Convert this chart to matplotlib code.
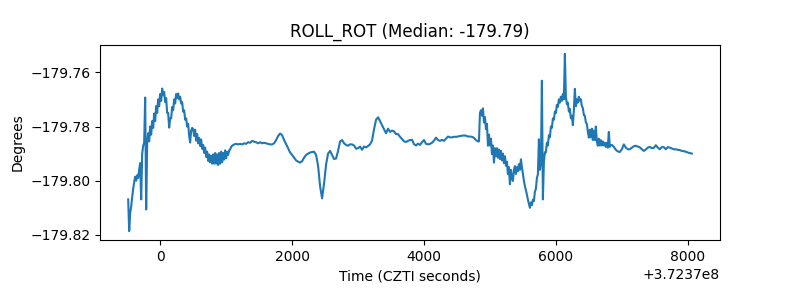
import numpy as np
import matplotlib
matplotlib.use("Agg")
import matplotlib.pyplot as plt

# Time offset (CZTI seconds) and segment boundaries (seconds relative to offset)
t_offset = 372370000.0
seg_bounds = [(-485, 1091), (1091, 4818), (4833, 6817), (6817, 8060)]

# Segment 1: noisy start (sampled ~15 s)
seg1 = [-179.8069, -179.8186, -179.8120, -179.8095, -179.8060, -179.8030, -179.8005, -179.7985,
        -179.8000, -179.7980, -179.7990, -179.7960, -179.7935, -179.8069, -179.7900, -179.7871,
        -179.7860, -179.7693, -179.8106,
        -179.7860, -179.7825, -179.7855, -179.7800, -179.7830, -179.7780, -179.7805, -179.7752,
        -179.7780, -179.7725, -179.7750, -179.7700, -179.7725, -179.7680, -179.7705, -179.7660,
        -179.7685, -179.7672, -179.7710, -179.7695, -179.7750, -179.7750, -179.7804, -179.7770,
        -179.7770, -179.7728, -179.7740, -179.7700, -179.7715, -179.7680, -179.7695, -179.7678,
        -179.7700, -179.7690, -179.7715, -179.7710, -179.7745, -179.7740, -179.7775, -179.7770,
        -179.7800, -179.7790, -179.7835, -179.7859,
        -179.7815, -179.7805, -179.7810, -179.7835, -179.7812, -179.7852, -179.7828, -179.7862,
        -179.7842, -179.7872, -179.7848, -179.7882, -179.7868, -179.7897, -179.7878, -179.7912,
        -179.7893, -179.7927, -179.7903, -179.7932, -179.7908, -179.7937, -179.7903, -179.7937,
        -179.7898, -179.7937, -179.7903, -179.7942, -179.7898, -179.7937, -179.7893, -179.7932,
        -179.7898, -179.7922, -179.7888, -179.7917, -179.7893, -179.7905, -179.7888, -179.7885,
        -179.7875, -179.7871]

# Segment 2: smooth middle (sampled ~30 s)
seg2 = [-179.7871, -179.7866, -179.7864, -179.7866, -179.7864, -179.7866, -179.7862, -179.7864,
        -179.7858, -179.7860, -179.7853, -179.7856, -179.7858, -179.7862, -179.7858, -179.7862,
        -179.7860, -179.7862, -179.7864, -179.7866, -179.7866, -179.7862, -179.7850, -179.7835,
        -179.7826, -179.7832, -179.7850, -179.7865, -179.7880, -179.7896, -179.7905, -179.7915,
        -179.7925, -179.7930, -179.7933, -179.7928, -179.7915, -179.7905, -179.7900, -179.7896,
        -179.7894, -179.7893, -179.7905, -179.7945, -179.8020, -179.8065, -179.8010, -179.7940,
        -179.7900, -179.7890, -179.7905, -179.7920, -179.7918, -179.7890, -179.7855, -179.7850,
        -179.7862, -179.7868, -179.7871, -179.7866, -179.7866, -179.7870, -179.7882, -179.7880,
        -179.7874, -179.7886, -179.7874, -179.7877, -179.7872, -179.7866, -179.7852, -179.7810,
        -179.7775, -179.7766, -179.7780, -179.7795, -179.7810, -179.7825, -179.7808, -179.7820,
        -179.7815, -179.7818, -179.7828, -179.7828, -179.7838, -179.7846, -179.7855, -179.7857,
        -179.7853, -179.7850, -179.7849, -179.7865, -179.7870, -179.7863, -179.7868, -179.7858,
        -179.7850, -179.7864, -179.7866, -179.7864, -179.7860, -179.7852, -179.7841, -179.7850,
        -179.7853, -179.7849, -179.7853, -179.7845, -179.7837, -179.7840, -179.7840, -179.7838,
        -179.7838, -179.7837, -179.7835, -179.7834, -179.7833, -179.7834, -179.7837, -179.7837,
        -179.7838, -179.7842, -179.7850, -179.7855]

# Segment 3: noisy disturbance (sampled ~15 s)
seg3 = [-179.7855, -179.7750, -179.7740, -179.7760, -179.7733, -179.7785, -179.7765, -179.7810,
        -179.7790, -179.7871, -179.7830, -179.7870, -179.7845, -179.7902, -179.7870, -179.7933,
        -179.7880, -179.7910, -179.7880, -179.7915, -179.7885, -179.7920, -179.7890, -179.7925,
        -179.7900, -179.7935, -179.7910, -179.7945, -179.7930, -179.7976, -179.7950, -179.8013,
        -179.7960, -179.7990, -179.8001, -179.7960, -179.7946, -179.7975, -179.7950, -179.7965,
        -179.7939, -179.7960, -179.7921, -179.7950, -179.7975, -179.8000, -179.8020, -179.8035,
        -179.8051, -179.8070, -179.8085, -179.8100, -179.8080, -179.8090, -179.8070, -179.8075,
        -179.8040, -179.8030, -179.7990, -179.7976, -179.7847, -179.7960, -179.7933, -179.7631,
        -179.8069,
        -179.7930, -179.7895, -179.7895, -179.7860, -179.7870, -179.7832, -179.7840, -179.7800,
        -179.7805, -179.7770, -179.7775, -179.7745, -179.7750, -179.7720, -179.7728, -179.7700,
        -179.7712, -179.7690, -179.7705, -179.7680, -179.7700, -179.7532, -179.7690, -179.7718,
        -179.7712, -179.7745, -179.7735, -179.7770, -179.7760, -179.7795, -179.7740, -179.7661,
        -179.7725, -179.7700, -179.7712, -179.7690, -179.7705, -179.7700, -179.7725, -179.7732,
        -179.7758, -179.7760, -179.7785, -179.7790, -179.7820, -179.7841, -179.7812, -179.7840,
        -179.7808, -179.7850, -179.7815, -179.7850, -179.7800, -179.7855,
        -179.7871, -179.7845, -179.7870, -179.7850, -179.7870, -179.7855, -179.7870, -179.7860,
        -179.7875, -179.7860, -179.7878, -179.7820, -179.7875]

# Segment 4: smooth tail (sampled ~30 s)
seg4 = [-179.7871, -179.7868, -179.7875, -179.7886, -179.7892, -179.7894, -179.7884, -179.7866,
        -179.7878, -179.7884, -179.7884, -179.7878, -179.7873, -179.7871, -179.7874, -179.7877,
        -179.7884, -179.7890, -179.7885, -179.7878, -179.7875, -179.7880, -179.7879, -179.7869,
        -179.7878, -179.7884, -179.7876, -179.7876, -179.7884, -179.7876, -179.7878, -179.7881,
        -179.7884, -179.7884, -179.7886, -179.7887, -179.7890, -179.7891, -179.7893, -179.7896,
        -179.7898, -179.7900]

segments = [seg1, seg2, seg3, seg4]
times = []
values = []
for (t0, t1), seg in zip(seg_bounds, segments):
    times.append(t_offset + np.linspace(t0, t1, len(seg)))
    values.append(np.array(seg))
times = np.concatenate(times)
values = np.concatenate(values)

fig, ax = plt.subplots(figsize=(8, 3), dpi=100)
fig.subplots_adjust(left=0.125, right=0.9, top=0.85, bottom=0.2)
ax.plot(times, values, color="C0", lw=1.5)
ax.set_title("ROLL_ROT (Median: -179.79)")
ax.set_xlabel("Time (CZTI seconds)")
ax.set_ylabel("Degrees")
fig.savefig("out.png", dpi=100)
